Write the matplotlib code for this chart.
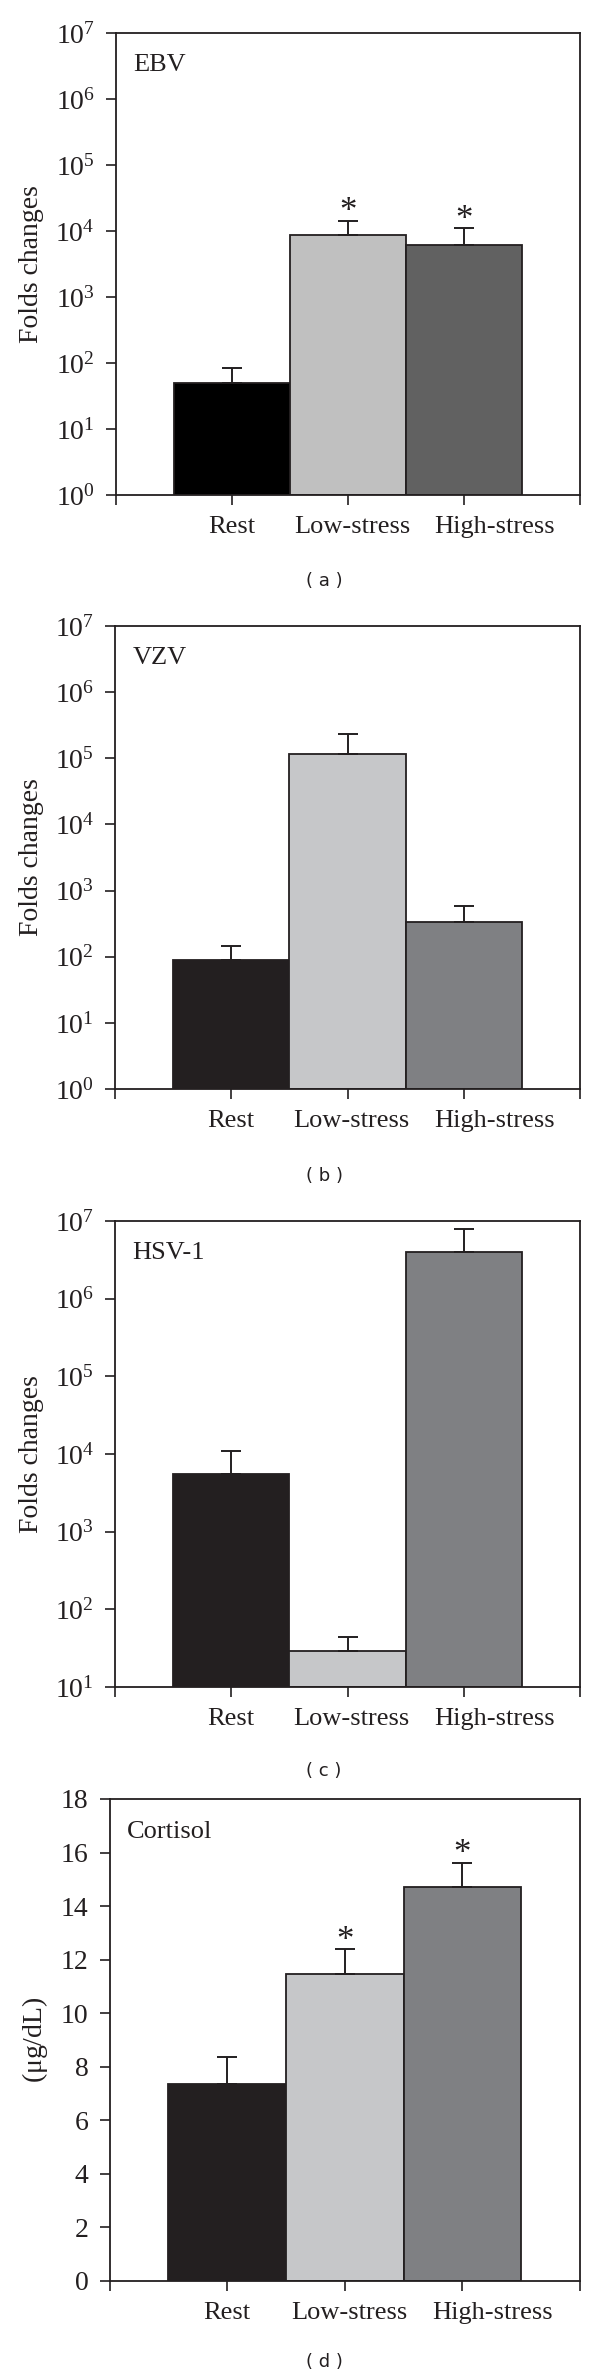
import math
import matplotlib
matplotlib.use('Agg')
import matplotlib.pyplot as plt
from matplotlib.ticker import FixedLocator, NullLocator, LogFormatterSciNotation
from matplotlib.transforms import ScaledTranslation

plt.rcParams['font.family'] = ['Liberation Serif', 'DejaVu Serif']
plt.rcParams['mathtext.fontset'] = 'custom'
plt.rcParams['mathtext.rm'] = 'Liberation Serif'
plt.rcParams['mathtext.it'] = 'Liberation Serif:italic'
plt.rcParams['mathtext.default'] = 'regular'

# ---------------- data ----------------
categories = ['Rest', 'Low-stress', 'High-stress']

ebv_values = [50, 8600, 6200]
ebv_err_top = [83, 14400, 11000]
ebv_sig = [False, True, True]

vzv_values = [88, 118000, 336]
vzv_err_top = [145, 236000, 583]
vzv_sig = [False, False, False]

hsv_values = [5500, 29, 4.0e6]
hsv_err_top = [11000, 44, 8.0e6]
hsv_sig = [False, False, False]

cort_values = [7.36, 11.48, 14.70]
cort_err_top = [8.38, 12.39, 15.62]
cort_sig = [False, True, True]

panel_titles = ['EBV', 'VZV', 'HSV-1', 'Cortisol']
panel_letters = ['( a )', '( b )', '( c )', '( d )']
ylabels = ['Folds changes', 'Folds changes', 'Folds changes', '($\\mu$g/dL)']

# ---------------- layout ----------------
W, H = 600, 2378
fig = plt.figure(figsize=(W / 100, H / 100), dpi=100)

# (left, right, top, bottom) in pixels
rects = [(115.7, 580, 33, 495),
         (115, 580, 626, 1089),
         (115, 580, 1221, 1687),
         (109.5, 580, 1799, 2281)]
letter_y = [581, 1176, 1771, 2362]
label_shift_pt = [0, 3, 22]

colors_ebv = ['#000000', '#c0c0c0', '#616161']
colors_std = ['#231f20', '#c6c7c9', '#7f8083']

datasets = [
    (ebv_values, ebv_err_top, ebv_sig, True, (1, 1e7), colors_ebv),
    (vzv_values, vzv_err_top, vzv_sig, True, (1, 1e7), colors_std),
    (hsv_values, hsv_err_top, hsv_sig, True, (10, 1e7), colors_std),
    (cort_values, cort_err_top, cort_sig, False, (0, 18), colors_std),
]

edge = '#231f20'
for i, (vals, tops, sig, islog, ylim, cols) in enumerate(datasets):
    l, r, t, b = rects[i]
    ax = fig.add_axes([l / W, 1 - b / H, (r - l) / W, (b - t) / H])
    x = [1, 2, 3]
    errs = [[0] * 3, [tp - v for tp, v in zip(tops, vals)]]
    bottom = ylim[0]
    heights = [v - bottom for v in vals]
    ax.bar(x, heights, bottom=bottom, width=1.0, color=cols, edgecolor=edge,
           linewidth=1.3, zorder=2)
    ax.errorbar(x, vals, yerr=errs, fmt='none', ecolor=edge, elinewidth=1.4,
                capsize=7, capthick=1.4, zorder=3)
    for xi, s, tp in zip(x, sig, tops):
        if s:
            ax.annotate('*', xy=(xi, tp), xytext=(0, -6), textcoords='offset points',
                        ha='center', va='bottom', fontsize=25, color='#231f20')
    if islog:
        ax.set_yscale('log')
    ax.set_ylim(*ylim)
    ax.set_xlim(0, 4)
    if islog:
        lo = int(round(math.log10(ylim[0])))
        hi = int(round(math.log10(ylim[1])))
        ax.yaxis.set_major_locator(FixedLocator([10.0 ** k for k in range(lo, hi + 1)]))
        ax.yaxis.set_major_formatter(LogFormatterSciNotation())
        ax.yaxis.set_minor_locator(NullLocator())
    else:
        ax.yaxis.set_major_locator(FixedLocator(list(range(0, 19, 2))))
    ax.set_xticks([0, 1, 2, 3, 4])
    ax.set_xticklabels([''] + categories + [''])
    ax.tick_params(axis='both', direction='out', length=7, width=1.2,
                   labelsize=19, colors='#231f20')
    ax.tick_params(axis='y', labelsize=20)
    ax.tick_params(axis='x', pad=8)
    ax.tick_params(axis='y', pad=8)
    labs = ax.get_xticklabels()
    for j, lab in enumerate(labs[1:4]):
        lab.set_transform(lab.get_transform() +
                          ScaledTranslation(label_shift_pt[j] / 72, 0, fig.dpi_scale_trans))
    for sp in ax.spines.values():
        sp.set_linewidth(1.3)
        sp.set_color('#231f20')
    ax.set_ylabel(ylabels[i], fontsize=20, color='#231f20', labelpad=8)
    ax.text(0.037, 0.955, panel_titles[i], transform=ax.transAxes, ha='left',
            va='top', fontsize=19, color='#231f20')
    fig.text(324 / W, 1 - letter_y[i] / H, panel_letters[i], ha='center',
             va='center', fontsize=13, family='DejaVu Sans', color='#231f20')

fig.savefig('out.png', dpi=100)
